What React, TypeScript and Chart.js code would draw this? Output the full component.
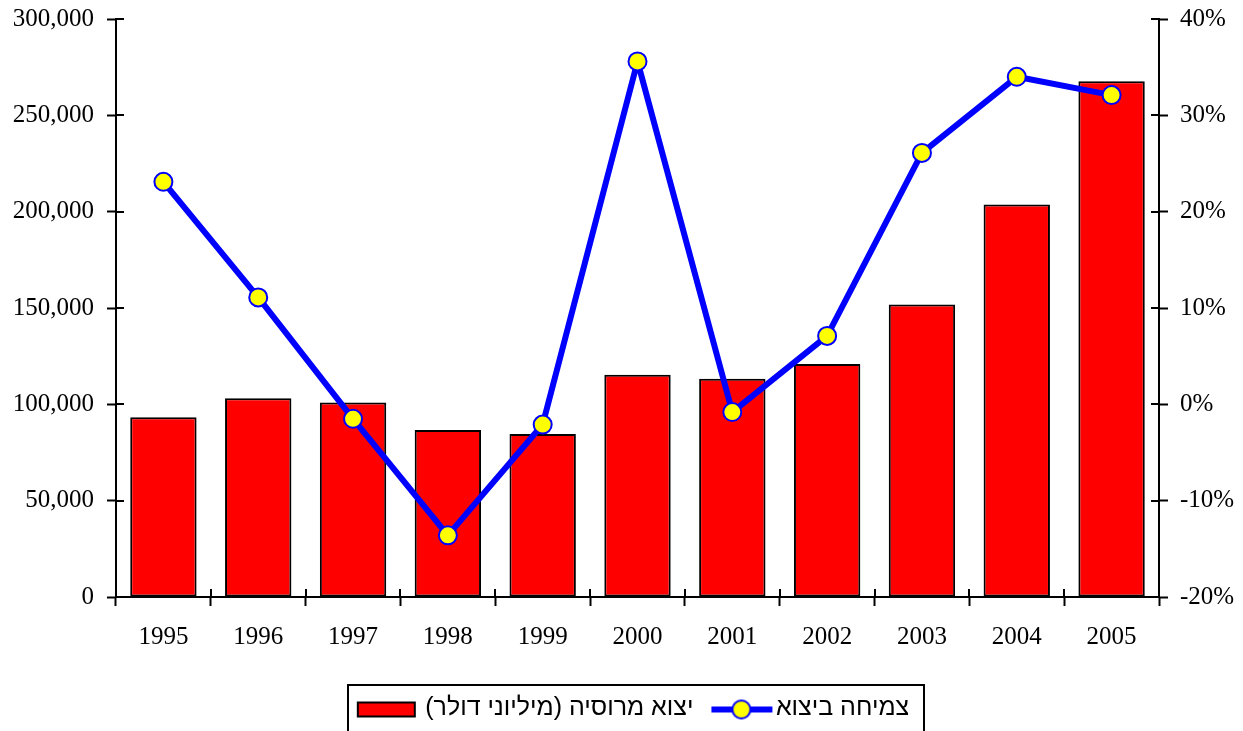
import { useEffect, useRef } from 'react';
import { Chart, registerables } from 'chart.js';

Chart.register(...registerables);

const years = ['1995', '1996', '1997', '1998', '1999', '2000', '2001', '2002', '2003', '2004', '2005'];
const exportsMillionUSD = [93300, 103100, 101000, 86700, 84600, 115400, 113300, 120900, 151800, 203700, 267700];
const exportGrowthPct = [23.1, 11.1, -1.5, -13.6, -2.1, 35.6, -0.8, 7.1, 26.1, 34.0, 32.1];
const barLabel = 'יצוא מרוסיה (מיליוני דולר)';
const lineLabel = 'צמיחה ביצוא';
const leftAxisRange = [0, 300000, 50000];
const rightAxisRange = [-20, 40, 10];

const W = 1243;
const H = 731;
const TICK_IN = 8;
const RLM = '\u200F';
const LEGEND_SHIFT = 19;

function makeBarMarker(): HTMLCanvasElement {
  const c = document.createElement('canvas');
  c.width = 80;
  c.height = 26;
  const g = c.getContext('2d')!;
  g.fillStyle = '#FF0000';
  g.fillRect(15, 7, 57, 14);
  g.strokeStyle = '#000000';
  g.lineWidth = 2;
  g.strokeRect(15, 7, 57, 14);
  return c;
}

function makeLineMarker(): HTMLCanvasElement {
  const c = document.createElement('canvas');
  c.width = 80;
  c.height = 26;
  const g = c.getContext('2d')!;
  g.strokeStyle = '#0000FF';
  g.lineWidth = 6;
  g.beginPath();
  g.moveTo(18, 14);
  g.lineTo(79, 14);
  g.stroke();
  g.beginPath();
  g.arc(48, 14, 9, 0, Math.PI * 2);
  g.fillStyle = '#FFFF00';
  g.fill();
  g.lineWidth = 2;
  g.strokeStyle = '#0000FF';
  g.stroke();
  return c;
}

const innerTicksPlugin = {
  id: 'innerTicks',
  afterDatasetsDraw(chart: any) {
    const ctx = chart.ctx;
    const ca = chart.chartArea;
    const y = chart.scales.y;
    const y1 = chart.scales.y1;
    ctx.save();
    ctx.strokeStyle = '#000';
    ctx.lineWidth = 2;
    ctx.beginPath();
    y.ticks.forEach((t: any) => {
      const p = Math.round(y.getPixelForValue(t.value));
      ctx.moveTo(ca.left, p);
      ctx.lineTo(ca.left + TICK_IN, p);
    });
    y1.ticks.forEach((t: any) => {
      const p = Math.round(y1.getPixelForValue(t.value));
      ctx.moveTo(ca.right, p);
      ctx.lineTo(ca.right - TICK_IN, p);
    });
    const n = years.length;
    for (let i = 0; i <= n; i++) {
      const p = Math.round(ca.left + (i * (ca.right - ca.left)) / n);
      ctx.moveTo(p, ca.bottom);
      ctx.lineTo(p, ca.bottom - TICK_IN);
    }
    ctx.stroke();
    ctx.restore();
  },
};

const legendBoxPlugin = {
  id: 'legendBox',
  afterLayout(chart: any) {
    const lg = chart.legend;
    if (lg) lg.left += LEGEND_SHIFT;
  },
  afterDraw(chart: any) {
    const lg = chart.legend;
    if (!lg || !lg.lineWidths) return;
    const pad = 10;
    const lw = lg.lineWidths[0];
    const start = (lg.left + pad + lg.right - lw) / 2;
    const ctx = chart.ctx;
    ctx.save();
    ctx.strokeStyle = '#000';
    ctx.lineWidth = 2;
    const l = Math.round(start - 5);
    const r = Math.round(start + lw + 5);
    ctx.strokeRect(l, lg.top - 1, r - l, 60);
    ctx.restore();
  },
};

export default function App() {
  const ref = useRef<HTMLCanvasElement | null>(null);

  useEffect(() => {
    document.body.style.margin = '0';
    const canvas = ref.current;
    if (!canvas) return;
    const barMarker = makeBarMarker();
    const lineMarker = makeLineMarker();
    const tickFont = { family: '"Liberation Serif", "Times New Roman", serif', size: 25 };

    const chart = new Chart(canvas, {
      type: 'bar',
      data: {
        labels: years,
        datasets: [
          {
            type: 'line',
            label: lineLabel,
            data: exportGrowthPct,
            yAxisID: 'y1',
            borderColor: '#0000FF',
            borderWidth: 6,
            borderJoinStyle: 'round',
            borderCapStyle: 'round',
            pointRadius: 9,
            pointBorderWidth: 2,
            pointBackgroundColor: '#FFFF00',
            pointBorderColor: '#0000FF',
            tension: 0,
            fill: false,
          } as any,
          {
            type: 'bar',
            label: barLabel,
            data: exportsMillionUSD,
            yAxisID: 'y',
            backgroundColor: '#FF0000',
            borderColor: '#000000',
            borderWidth: 2,
            borderSkipped: false,
            barPercentage: 0.7,
            categoryPercentage: 1,
          } as any,
        ],
      },
      options: {
        responsive: false,
        animation: false,
        layout: { padding: { top: 19, left: 0, right: 0, bottom: 0 } },
        plugins: {
          tooltip: { enabled: false },
          legend: {
            display: true,
            position: 'bottom',
            labels: {
              usePointStyle: true,
              pointStyleWidth: 60,
              padding: 10,
              color: '#000',
              font: { family: '"Liberation Sans", Arial, sans-serif', size: 25 },
              generateLabels: () => [
                {
                  text: RLM + barLabel + RLM,
                  pointStyle: barMarker,
                  fillStyle: '#FF0000',
                  strokeStyle: '#000',
                  lineWidth: 0,
                  hidden: false,
                  datasetIndex: 1,
                  fontColor: '#000',
                } as any,
                {
                  text: RLM + lineLabel + RLM,
                  pointStyle: lineMarker,
                  fillStyle: '#FFFF00',
                  strokeStyle: '#0000FF',
                  lineWidth: 0,
                  hidden: false,
                  datasetIndex: 0,
                  fontColor: '#000',
                } as any,
              ],
            },
          },
        },
        scales: {
          x: {
            type: 'category',
            offset: true,
            grid: {
              offset: true,
              drawOnChartArea: false,
              drawTicks: true,
              tickLength: 9,
              tickWidth: 2,
              tickColor: '#000',
            },
            border: { display: true, color: '#000', width: 2 },
            ticks: { color: '#000', font: tickFont, padding: 16, maxRotation: 0, autoSkip: false },
            afterFit: (s: any) => {
              s.height = 89;
              s.paddingLeft = 0;
              s.paddingRight = 0;
            },
          },
          y: {
            type: 'linear',
            position: 'left',
            min: leftAxisRange[0],
            max: leftAxisRange[1],
            grid: {
              drawOnChartArea: false,
              drawTicks: true,
              tickLength: 9,
              tickWidth: 2,
              tickColor: '#000',
            },
            border: { display: true, color: '#000', width: 2 },
            ticks: {
              stepSize: leftAxisRange[2],
              color: '#000',
              font: tickFont,
              padding: 13,
              callback: (v: any) => Number(v).toLocaleString('en-US'),
            },
            afterFit: (s: any) => {
              s.width = 116;
              s.paddingTop = 0;
              s.paddingBottom = 0;
            },
          },
          y1: {
            type: 'linear',
            position: 'right',
            min: rightAxisRange[0],
            max: rightAxisRange[1],
            grid: {
              drawOnChartArea: false,
              drawTicks: true,
              tickLength: 9,
              tickWidth: 2,
              tickColor: '#000',
            },
            border: { display: true, color: '#000', width: 2 },
            ticks: {
              stepSize: rightAxisRange[2],
              color: '#000',
              font: tickFont,
              padding: 12,
              callback: (v: any) => `${v}%`,
            },
            afterFit: (s: any) => {
              s.width = 84;
              s.paddingTop = 0;
              s.paddingBottom = 0;
            },
          },
        },
      } as any,
      plugins: [innerTicksPlugin, legendBoxPlugin],
    });

    return () => {
      chart.destroy();
    };
  }, []);

  return (
    <div style={{ width: W, height: H, background: '#fff' }}>
      <canvas ref={ref} width={W} height={H} style={{ display: 'block' }} />
    </div>
  );
}
